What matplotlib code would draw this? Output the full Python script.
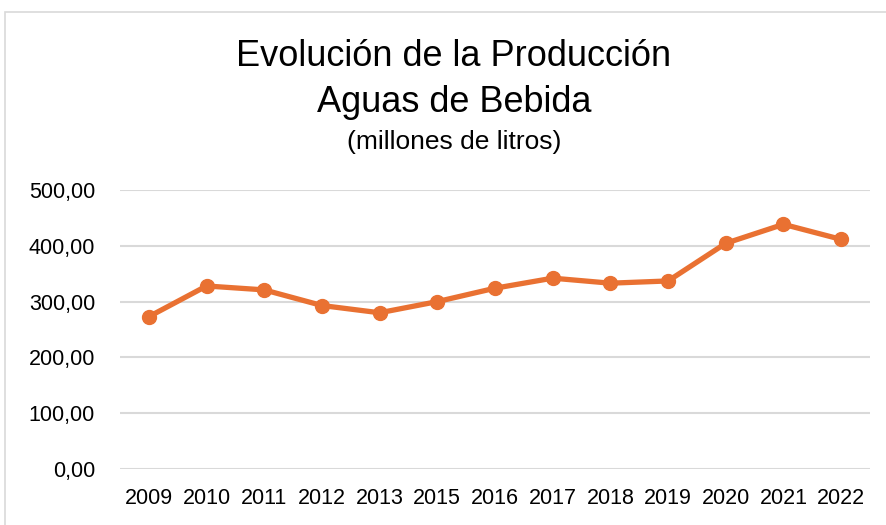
import matplotlib
matplotlib.use("Agg")
import matplotlib.pyplot as plt
from matplotlib.patches import Rectangle

years = ["2009", "2010", "2011", "2012", "2013", "2015", "2016",
         "2017", "2018", "2019", "2020", "2021", "2022"]
production = [273, 328, 321, 293, 280, 300, 324, 342, 333, 337, 404.5, 438.5, 411.5]
yticks = [0, 100, 200, 300, 400, 500]
ytick_labels = ["0,00", "100,00", "200,00", "300,00", "400,00", "500,00"]

plt.rcParams['font.family'] = ['Liberation Sans', 'DejaVu Sans']

W, H = 886, 525
fig = plt.figure(figsize=(W / 100, H / 100), dpi=100)
fig.patch.set_facecolor("white")

# outer chart border
fig.patches.append(Rectangle((5 / W, -0.1), 1.2, (H - 12) / H + 0.1,
                             transform=fig.transFigure, fill=False,
                             edgecolor="#d9d9d9", linewidth=1.2))

ax = fig.add_axes([120 / W, 1 - 469 / H, 750 / W, (469 - 190) / H])
x = list(range(len(years)))
ax.plot(x, production, color="#E97132", linewidth=3.8, marker="o",
        markersize=10, solid_joinstyle="round", zorder=3)
ax.set_xlim(-0.5, len(years) - 0.5)
ax.set_ylim(0, 500)
ax.set_yticks(yticks)
ax.set_yticklabels(ytick_labels)
ax.set_xticks(x)
ax.set_xticklabels(years)
ax.grid(axis="y", color="#d9d9d9", linewidth=1.5)
ax.set_axisbelow(True)
for s in ax.spines.values():
    s.set_visible(False)
ax.tick_params(axis="both", length=0, labelsize=15.5, colors="black")
ax.tick_params(axis="y", pad=18)
ax.tick_params(axis="x", pad=14)

fig.text(454 / W, 1 - 57 / H, "Evolución de la Producción", ha="center",
         va="center", fontsize=26)
fig.text(454 / W, 1 - 102 / H, "Aguas de Bebida", ha="center",
         va="center", fontsize=26)
fig.text(454 / W, 1 - 142 / H, "(millones de litros)", ha="center",
         va="center", fontsize=19)

fig.savefig("out.png", dpi=100, facecolor="white")
